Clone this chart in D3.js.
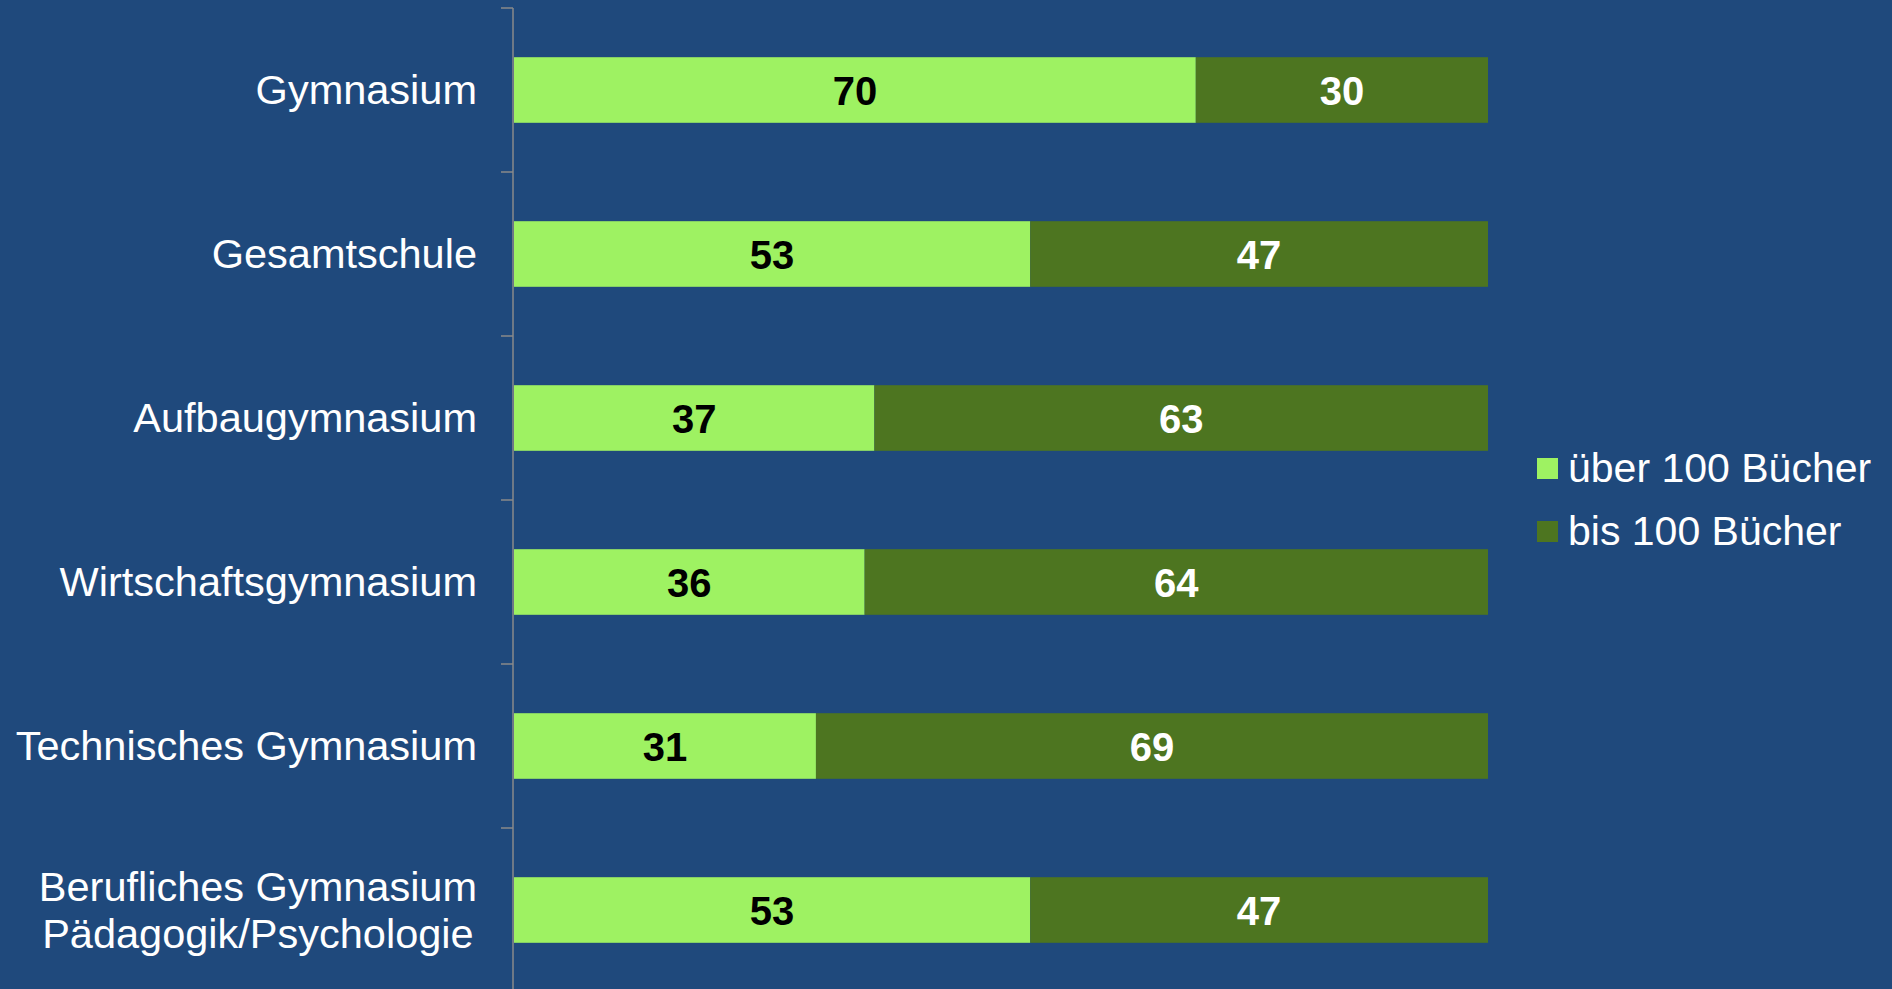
<!DOCTYPE html>
<html>
<head>
<meta charset="utf-8">
<script src="https://cdn.jsdelivr.net/npm/d3@7"></script>
<style>
html,body{margin:0;padding:0;background:#1f497c;}
svg{display:block;}
</style>
</head>
<body>
<svg id="chart" width="1892" height="989"></svg>
<script>
const categories = [
  ["Gymnasium"],
  ["Gesamtschule"],
  ["Aufbaugymnasium"],
  ["Wirtschaftsgymnasium"],
  ["Technisches Gymnasium"],
  ["Berufliches Gymnasium", "Pädagogik/Psychologie"]
];
const seriesNames = ["über 100 Bücher", "bis 100 Bücher"];
const ueber100 = [70, 53, 37, 36, 31, 53];
const bis100 = [30, 47, 63, 64, 69, 47];
const colors = ["#9ef262", "#4d7520"];
const labelColors = ["#000000", "#ffffff"];

const svg = d3.select("#chart");
const font = "'Liberation Sans', Arial, sans-serif";

const x = d3.scaleLinear().domain([0, 100]).range([514, 1488]);
const y = d3.scaleBand().domain(d3.range(categories.length)).range([8, 992]).paddingInner(0.6).paddingOuter(0.3);

// axis
const axis = d3.axisLeft(y).tickSize(0).tickFormat("");
const gAxis = svg.append("g").attr("transform", "translate(513,0)").call(axis);
gAxis.select(".domain").attr("stroke", "#8a8a8a").attr("stroke-width", 1.5).attr("d", "M0,8V989");
const tickYs = d3.range(categories.length + 1).map(i => 8 + i * (984 / categories.length));
gAxis.selectAll(".bt").data(tickYs).enter().append("line")
  .attr("x1", -12).attr("x2", 0).attr("y1", d => d).attr("y2", d => d)
  .attr("stroke", "#8a8a8a").attr("stroke-width", 1.5);

const data = categories.map((c, i) => ({i, vals: [ueber100[i], bis100[i]]}));
const stack = d3.stack().keys([0, 1]).value((d, k) => d.vals[k]);
const stacked = stack(data);

stacked.forEach((layer, k) => {
  const g = svg.append("g");
  g.selectAll("rect").data(layer).enter().append("rect")
    .attr("x", d => x(d[0]))
    .attr("y", d => y(d.data.i))
    .attr("width", d => x(d[1]) - x(d[0]))
    .attr("height", y.bandwidth())
    .attr("fill", colors[k]);
  g.selectAll("text").data(layer).enter().append("text")
    .attr("x", d => (x(d[0]) + x(d[1])) / 2)
    .attr("y", d => y(d.data.i) + y.bandwidth() / 2 + 15)
    .attr("text-anchor", "middle")
    .attr("font-family", font).attr("font-weight", "bold").attr("font-size", 40)
    .attr("fill", labelColors[k])
    .text(d => d.data.vals[k]);
});

// category labels
categories.forEach((lines, i) => {
  const cy = y(i) + y.bandwidth() / 2;
  const lh = 47;
  const n = lines.length;
  const g = svg.append("g");
  const texts = lines.map((line, j) => g.append("text")
    .attr("font-family", font).attr("font-size", 41.5).attr("fill", "#ffffff")
    .attr("y", cy + 14 + (j - (n - 1) / 2) * lh)
    .text(line));
  const maxW = d3.max(texts.map(t => t.node().getComputedTextLength()));
  const center = 477 - maxW / 2;
  texts.forEach(t => t.attr("x", center).attr("text-anchor", "middle"));
});

// legend
const leg = svg.append("g");
seriesNames.forEach((name, k) => {
  const ly = 458 + k * 63;
  leg.append("rect").attr("x", 1537).attr("y", ly).attr("width", 21).attr("height", 21).attr("fill", colors[k]);
  leg.append("text").attr("x", 1568).attr("y", ly + 24)
    .attr("font-family", font).attr("font-size", 41).attr("fill", "#ffffff").text(name);
});
</script>
</body>
</html>
